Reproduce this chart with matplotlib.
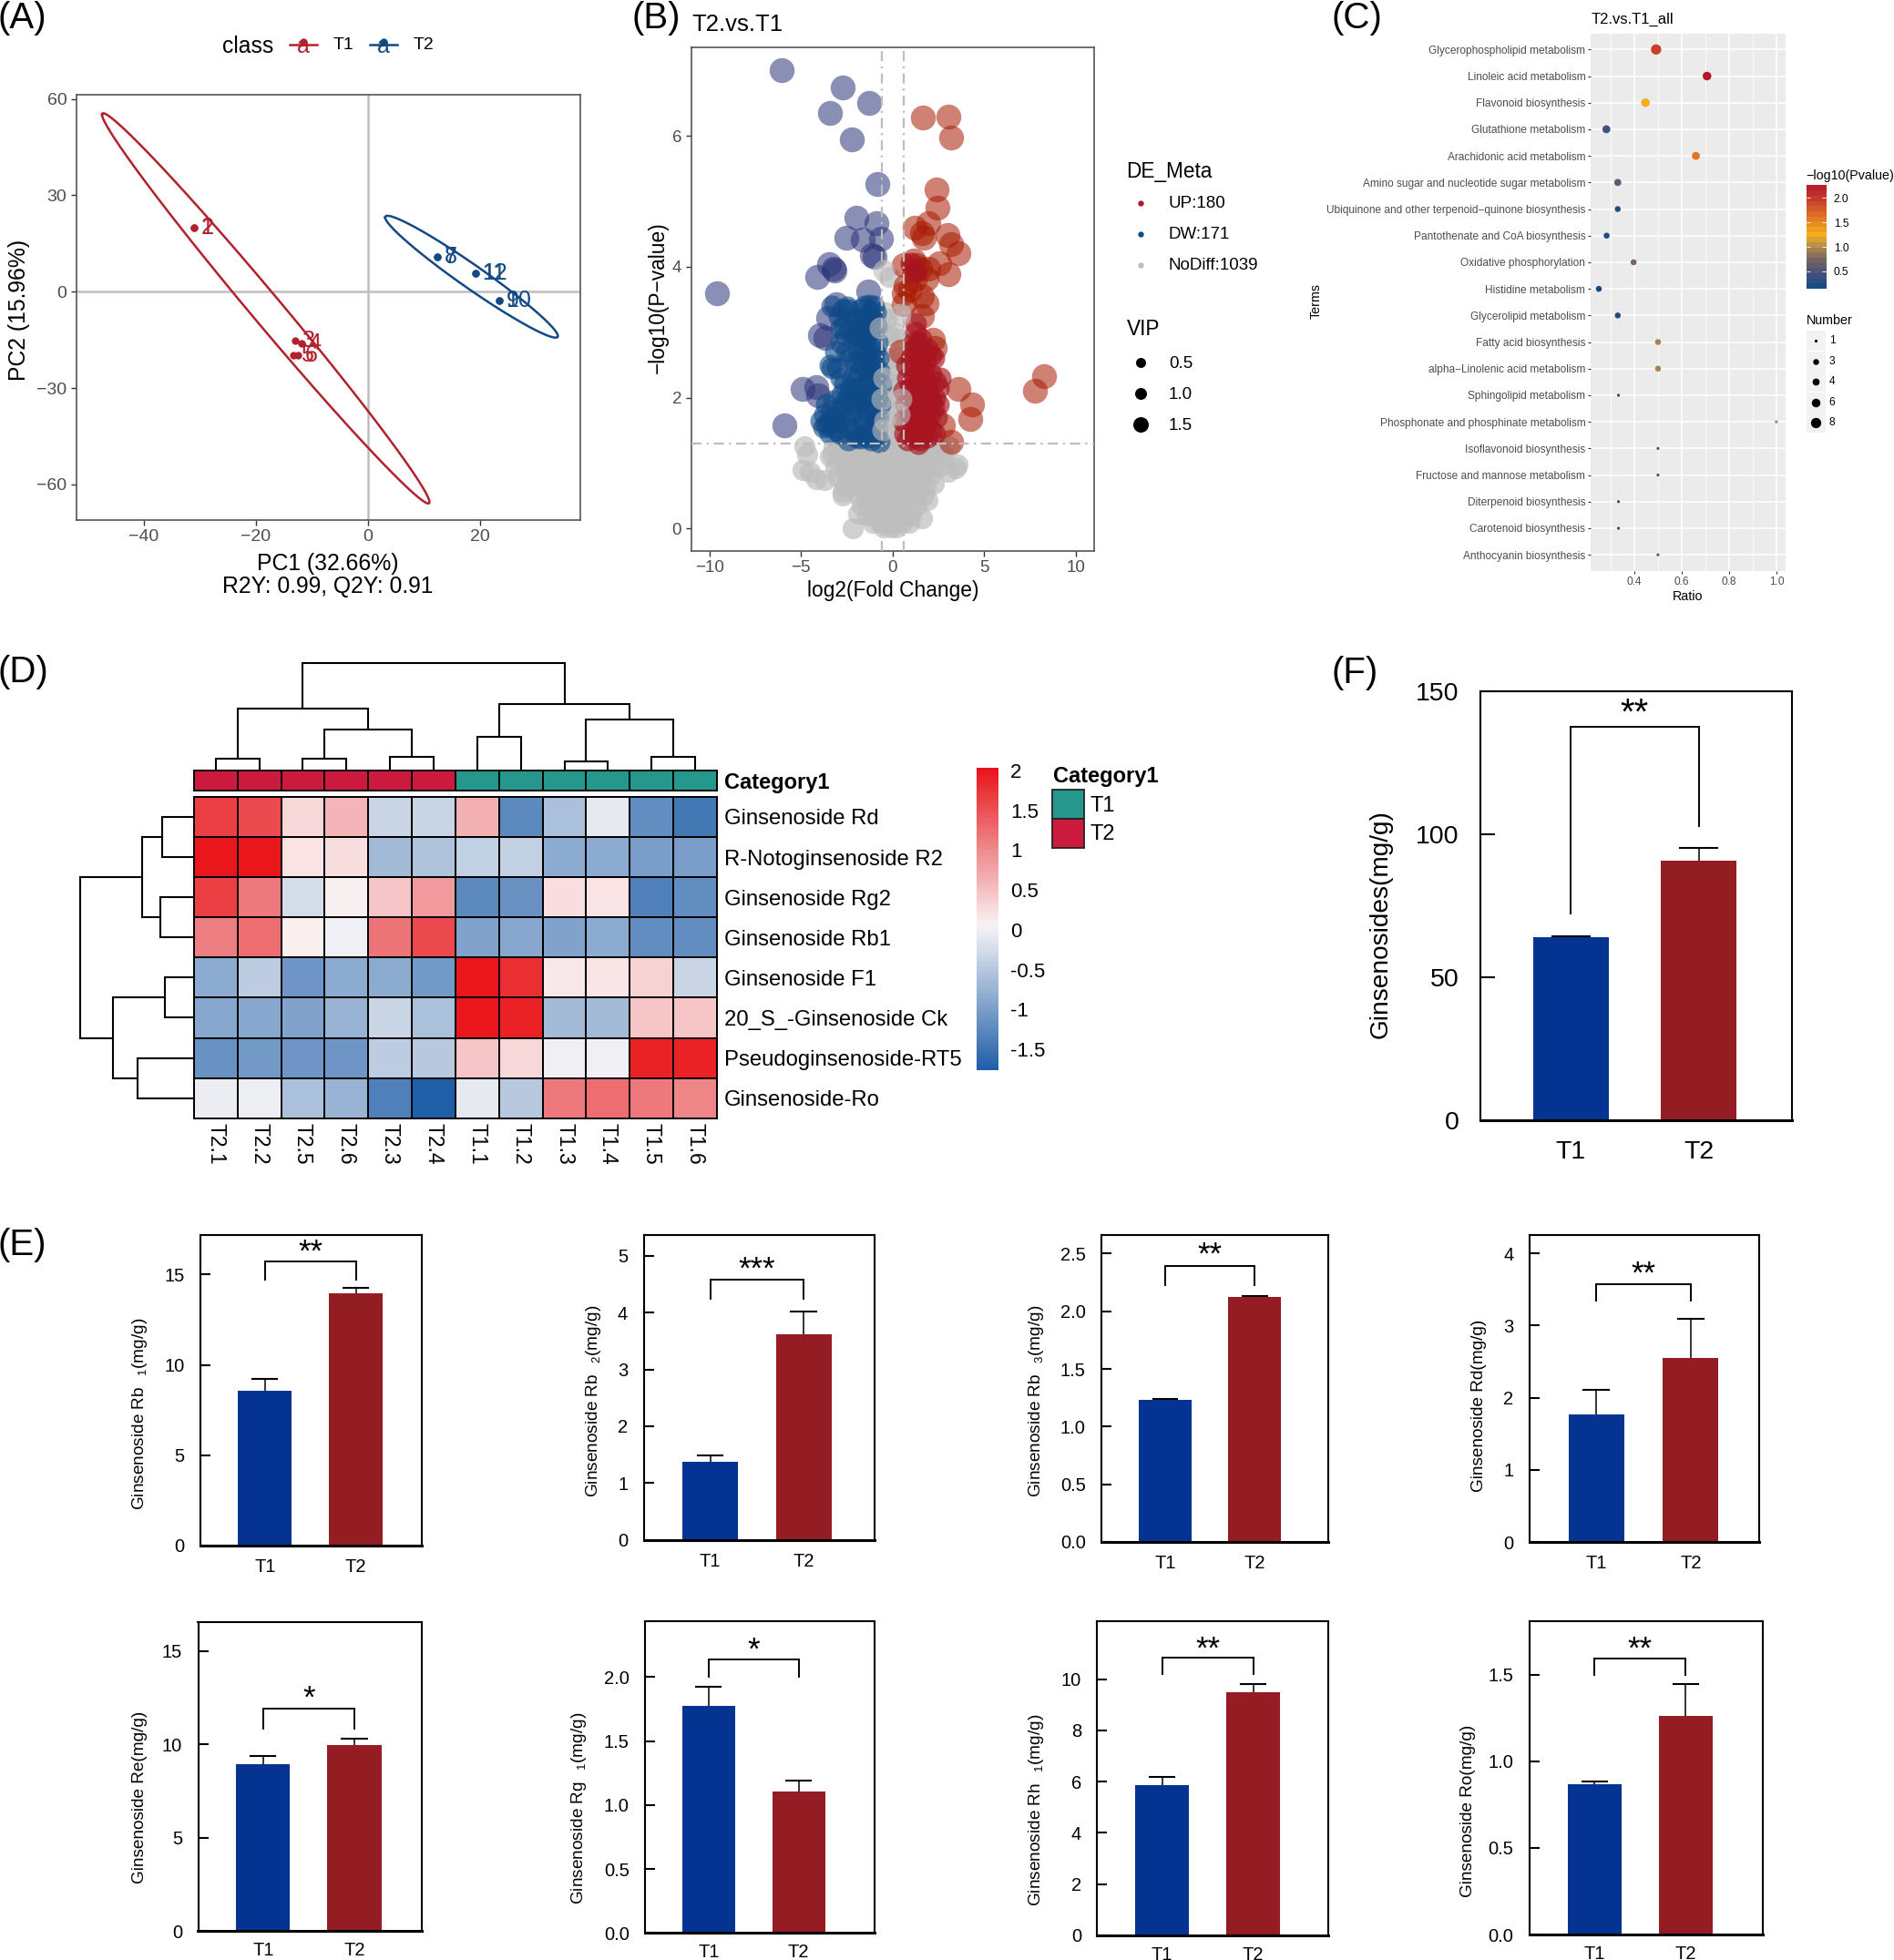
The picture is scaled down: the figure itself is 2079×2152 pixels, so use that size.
import matplotlib
matplotlib.use("Agg")
import matplotlib.pyplot as plt
import numpy as np
from matplotlib.colors import LinearSegmentedColormap, Normalize, ListedColormap

plt.rcParams['font.family'] = ['Liberation Sans', 'DejaVu Sans']
plt.rcParams['mathtext.default'] = 'regular'

W, H = 2079, 2152

# ---- panel A
t1_pc1 = [-31, -31, -12.9, -11.8, -13.2, -12.4]
t1_pc2 = [20, 20, -15.2, -16, -19.7, -19.7]
t1_ids = ['1', '2', '3', '4', '5', '6']
t2_pc1 = [12.4, 12.4, 19.2, 19.2, 23.4, 23.4]
t2_pc2 = [10.8, 10.8, 5.6, 5.6, -2.7, -2.7]
t2_ids = ['7', '8', '11', '12', '9', '10']
# centre x, centre y, axis x, axis y, vertical half width
t1_ellipse = [-18.2, -5.2, -29.2, 60.3, 7.3]
t2_ellipse = [18.5, 4.65, -15.4, 18.45, 4.4]

dw_big = [(-6.04, 7.01), (-2.71, 6.74), (-1.28, 6.5), (-3.42, 6.35), (-2.23, 5.95), (-0.82, 5.26),
          (-2.0, 4.75), (-0.89, 4.67), (-2.53, 4.45), (-1.62, 4.42), (-0.62, 4.43), (-1.12, 4.18),
          (-1.0, 4.15), (-3.46, 4.04), (-3.17, 3.95), (-3.23, 3.97), (-4.1, 3.84), (-9.6, 3.6),
          (-1.32, 3.62), (-3.07, 3.43), (-3.5, 3.22), (-3.96, 2.96), (-3.69, 2.91),
          (-4.92, 2.13), (-4.15, 2.16), (-4.08, 2.04), (-5.9, 1.58)]
dw_dense = [(-3.9, 1.65), (-3.7, 1.75), (-3.5, 1.62), (-3.3, 1.8), (-3.6, 1.9), (-3.1, 1.7), (-3.25, 1.55),
            (-3.4, 1.45), (-2.9, 1.62), (-2.7, 1.85), (-2.5, 1.55), (-2.3, 1.7), (-2.1, 1.5), (-1.95, 1.8),
            (-1.7, 1.6), (-1.5, 1.45), (-1.3, 1.75), (-1.1, 1.55), (-0.9, 1.42), (-0.75, 1.33), (-2.4, 1.35),
            (-1.8, 1.38), (-1.2, 1.35), (-2.6, 2.2), (-2.4, 2.0), (-2.2, 2.3), (-2.0, 2.1), (-1.8, 2.4),
            (-1.6, 2.0), (-1.4, 2.25), (-1.2, 2.05), (-1.0, 2.3), (-0.85, 2.0), (-2.8, 2.3), (-3.0, 2.45),
            (-3.3, 2.45), (-3.4, 2.5), (-2.1, 2.55), (-1.7, 2.6), (-1.3, 2.55), (-1.05, 2.55), (-0.8, 2.6),
            (-0.65, 2.2), (-0.7, 1.9), (-0.8, 1.7), (-3.1, 2.7), (-2.8, 2.85), (-2.5, 2.7), (-2.2, 2.9),
            (-1.9, 2.75), (-1.5, 2.9), (-1.2, 2.8), (-0.85, 2.85), (-2.6, 3.1), (-2.3, 3.05), (-2.0, 3.2),
            (-1.7, 3.1), (-1.4, 3.25), (-1.1, 3.05), (-2.9, 3.25), (-2.4, 3.35), (-1.8, 3.35), (-1.3, 3.42),
            (-1.05, 3.4), (-1.25, 3.3), (-3.3, 3.4), (-1.55, 3.4), (-2.48, 3.38), (-2.82, 3.07),
            (-2.55, 1.95), (-2.2, 1.9), (-1.9, 1.95), (-1.5, 1.85), (-1.15, 1.85), (-0.95, 1.65), (-2.0, 1.4),
            (-1.55, 1.65), (-2.6, 1.7), (-2.85, 1.45), (-3.05, 1.5), (-3.6, 1.58), (-3.75, 1.55), (-3.2, 1.95),
            (-2.3, 2.15), (-1.95, 2.3), (-1.55, 2.2), (-1.2, 2.4), (-0.95, 2.15), (-1.45, 2.45), (-1.9, 2.55),
            (-2.35, 2.6), (-1.65, 2.8), (-1.35, 2.7), (-1.0, 2.7), (-2.05, 2.95), (-1.75, 2.95), (-1.35, 3.0),
            (-0.9, 3.1), (-2.15, 3.2), (-1.55, 3.2), (-1.15, 3.2), (-0.95, 3.3), (-1.9, 3.05), (-2.55, 2.95),
            (-2.7, 3.35), (-1.4, 1.4), (-0.85, 1.55), (-0.75, 2.4), (-1.6, 1.95), (-1.85, 2.15), (-2.75, 2.05)]
up_big = [(1.66, 6.28), (3.05, 6.29), (3.21, 5.97), (2.39, 5.18), (2.44, 4.91), (1.94, 4.67), (1.2, 4.6),
          (1.62, 4.51), (1.69, 4.45), (2.98, 4.48), (3.21, 4.35), (3.58, 4.21), (2.57, 4.06), (3.03, 3.89),
          (8.29, 2.33), (7.79, 2.1), (3.6, 2.13), (4.35, 1.89), (4.26, 1.67), (3.21, 1.33), (2.76, 1.57),
          (0.6, 4.03), (1.16, 4.09), (1.32, 4.03), (1.5, 3.97), (1.95, 3.97), (1.85, 3.82), (0.7, 3.7),
          (0.6, 3.6), (1.6, 3.55), (1.85, 3.44), (0.6, 3.43), (1.6, 3.25), (0.48, 2.7), (2.2, 2.88),
          (2.3, 2.76), (0.95, 3.65), (1.2, 3.8)]
up_dense = [(0.6, 2.1), (0.7, 1.9), (0.55, 1.65), (0.65, 1.45), (0.8, 2.3), (0.75, 2.5), (1.0, 2.6), (1.2, 2.75),
            (1.4, 2.85), (1.5, 2.6), (1.7, 2.7), (1.9, 2.75), (2.1, 2.65), (2.25, 2.6), (0.95, 2.15), (1.15, 2.3),
            (1.3, 2.1), (1.5, 2.3), (1.7, 2.4), (1.9, 2.2), (2.1, 2.35), (2.35, 2.25), (2.5, 2.15), (2.6, 2.3),
            (2.3, 2.0), (2.1, 1.95), (1.85, 1.9), (1.6, 2.05), (1.35, 1.85), (1.1, 1.95), (0.9, 1.75), (1.2, 1.65),
            (1.45, 1.6), (1.65, 1.75), (1.85, 1.6), (2.05, 1.75), (2.25, 1.85), (2.4, 1.7), (2.5, 1.9), (1.0, 1.45),
            (1.25, 1.4), (1.5, 1.35), (1.7, 1.45), (1.9, 1.4), (2.1, 1.5), (2.3, 1.45), (1.4, 1.3), (0.8, 1.35),
            (1.55, 2.9), (1.25, 3.0), (1.28, 3.13), (1.16, 2.85), (1.4, 2.2), (1.6, 1.9), (1.75, 2.15), (1.45, 2.0),
            (1.3, 1.5), (1.55, 1.5), (1.75, 1.6), (1.1, 1.8), (1.4, 1.75), (1.75, 1.85), (1.95, 2.05), (1.25, 2.45),
            (1.55, 2.45), (1.8, 2.55), (1.1, 3.9), (1.3, 3.95), (1.0, 4.05)]
# grey funnel, rows of equal -log10(P)
nd_rows = [(1.25, [-3.2, -2.7, -2.3, -1.9, -1.4, -1.0, -0.6, -0.1, 0.3, 0.8, 1.2, 1.7, 2.1, 2.5]),
           (1.1, [-3.4, -2.9, -2.4, -2.0, -1.6, -1.1, -0.7, -0.3, 0.2, 0.6, 1.1, 1.5, 2.0, 2.4, 2.8]),
           (0.95, [-3.1, -2.6, -2.2, -1.8, -1.3, -0.9, -0.4, 0.0, 0.5, 0.9, 1.4, 1.8, 2.2, 2.6]),
           (0.8, [-3.0, -2.5, -2.1, -1.6, -1.2, -0.8, -0.3, 0.2, 0.7, 1.1, 1.6, 2.0]),
           (0.65, [-2.6, -2.1, -1.7, -1.3, -0.9, -0.4, 0.1, 0.5, 1.0, 1.4, 1.8]),
           (0.5, [-2.7, -1.9, -1.5, -1.0, -0.6, -0.1, 0.4, 0.8, 1.3, 1.7]),
           (0.35, [-1.7, -1.3, -0.9, -0.5, 0.0, 0.4, 0.9, 1.3]),
           (0.2, [-1.4, -1.0, -0.6, -0.2, 0.2, 0.6, 1.0]),
           (0.08, [-1.1, -0.7, -0.3, 0.1, 0.5, 0.9]),
           (0.02, [-0.5, -0.1, 0.2])]
nd_extra = [(-4.81, 1.26), (-4.65, 1.13), (-4.92, 0.89), (-4.49, 0.86), (-4.15, 0.75), (-3.74, 0.74), (-3.28, 1.13),
            (-2.71, 0.56), (-2.19, 0.01), (-1.87, 0.23), (1.62, 0.15), (1.91, 0.44), (2.23, 0.68), (3.03, 0.86),
            (3.55, 0.98), (3.44, 0.92), (2.64, 1.16), (3.1, 1.26),
            (-0.2, 3.85), (-0.4, 3.3), (-0.3, 3.2), (0.1, 3.0), (-0.2, 2.95),
            (0.3, 2.9), (0.2, 2.6), (-0.2, 2.6), (0.1, 2.45), (0.3, 2.4), (-0.3, 2.2), (0.1, 2.2), (0.3, 2.0),
            (-0.4, 1.85), (0.0, 1.9), (-0.1, 1.6), (0.35, 1.5), (0.05, 1.4), (-0.35, 1.4)]
# these few sit on top of the coloured points
nd_top = [(-0.46, 3.94), (-0.66, 3.07), (0.41, 3.28), (0.48, 1.98), (-0.6, 1.98), (-0.5, 2.3), (0.35, 1.75),
          (-0.45, 1.65), (-0.55, 1.5)]

# ---- panel C
terms = ['Glycerophospholipid metabolism', 'Linoleic acid metabolism', 'Flavonoid biosynthesis',
         'Glutathione metabolism', 'Arachidonic acid metabolism', 'Amino sugar and nucleotide sugar metabolism',
         'Ubiquinone and other terpenoid\u2212quinone biosynthesis', 'Pantothenate and CoA biosynthesis',
         'Oxidative phosphorylation', 'Histidine metabolism', 'Glycerolipid metabolism', 'Fatty acid biosynthesis',
         'alpha\u2212Linolenic acid metabolism', 'Sphingolipid metabolism', 'Phosphonate and phosphinate metabolism',
         'Isoflavonoid biosynthesis', 'Fructose and mannose metabolism', 'Diterpenoid biosynthesis',
         'Carotenoid biosynthesis', 'Anthocyanin biosynthesis']
ratio = [0.492, 0.707, 0.447, 0.282, 0.66, 0.33, 0.33, 0.283, 0.397, 0.25, 0.33, 0.5, 0.5, 0.333, 1.0, 0.5, 0.5,
         0.333, 0.333, 0.5]
pval = [1.95, 2.25, 1.25, 0.4, 1.6, 0.6, 0.25, 0.2, 0.75, 0.15, 0.25, 0.95, 0.95, 0.3, 0.95, 0.45, 0.45, 0.3, 0.3, 0.55]
number = [8, 6, 6, 5, 5, 4, 3, 3, 3, 3, 3, 3, 3, 1, 1, 1, 1, 1, 1, 1]
number_diam = {1: 3.2, 3: 6.5, 4: 7.8, 5: 8.7, 6: 9.5, 8: 11.3}

# ---- panel D
col_names = ['T2.1', 'T2.2', 'T2.5', 'T2.6', 'T2.3', 'T2.4', 'T1.1', 'T1.2', 'T1.3', 'T1.4', 'T1.5', 'T1.6']
col_group = [1, 1, 1, 1, 1, 1, 0, 0, 0, 0, 0, 0]
row_names = ['Ginsenoside Rd', 'R-Notoginsenoside R2', 'Ginsenoside Rg2', 'Ginsenoside Rb1', 'Ginsenoside F1',
             '20_S_-Ginsenoside Ck', 'Pseudoginsenoside-RT5', 'Ginsenoside-Ro']
heat = [[1.65, 1.55, 0.3, 0.6, -0.35, -0.35, 0.65, -1.25, -0.6, -0.1, -1.2, -1.45],
        [2.0, 2.0, 0.2, 0.25, -0.65, -0.55, -0.4, -0.4, -0.85, -0.85, -1.0, -1.0],
        [1.65, 1.15, -0.25, 0.08, 0.45, 0.85, -1.25, -1.15, 0.25, 0.2, -1.35, -1.2],
        [1.1, 1.25, 0.1, 0.0, 1.2, 1.55, -0.95, -0.9, -0.95, -0.85, -1.2, -1.2],
        [-0.85, -0.45, -1.1, -0.85, -0.85, -1.05, 2.0, 1.8, 0.15, 0.18, 0.35, -0.35],
        [-0.9, -0.9, -0.95, -0.75, -0.35, -0.6, 2.0, 1.9, -0.65, -0.65, 0.45, 0.45],
        [-1.15, -1.05, -1.1, -1.1, -0.45, -0.5, 0.45, 0.3, 0.0, 0.0, 1.9, 1.9],
        [-0.05, -0.03, -0.6, -0.75, -1.35, -1.75, -0.1, -0.5, 1.15, 1.25, 1.15, 1.05]]
# merges: left node, right node, height
col_merges = [(0, 1, 30), (2, 3, 30), (4, 5, 37), (13, 14, 114), (12, 15, 175), (6, 7, 92), (8, 9, 24), (10, 11, 35),
              (18, 19, 142), (17, 20, 187), (16, 21, 305)]
row_merges = [(0, 1, 69), (2, 3, 72), (8, 9, 111), (4, 5, 62), (6, 7, 122), (11, 12, 175), (10, 13, 245)]

# ---- panels E and F
e_labels = ['Ginsenoside Rb$\\ \\ _{1}$(mg/g)', 'Ginsenoside Rb$\\ \\ _{2}$(mg/g)', 'Ginsenoside Rb$\\ \\ _{3}$(mg/g)',
            'Ginsenoside Rd(mg/g)', 'Ginsenoside Re(mg/g)', 'Ginsenoside Rg$\\ \\ _{1}$(mg/g)',
            'Ginsenoside Rh$\\ \\ _{1}$(mg/g)', 'Ginsenoside Ro(mg/g)']
e_t1 = [8.57, 1.38, 1.232, 1.769, 8.91, 1.777, 5.86, 0.866]
e_t2 = [13.98, 3.61, 2.124, 2.555, 9.97, 1.109, 9.49, 1.26]
e_t1_cap = [9.22, 1.48, 1.242, 2.11, 9.35, 1.924, 6.19, 0.885]
e_t2_cap = [14.25, 4.02, 2.134, 3.09, 10.3, 1.188, 9.81, 1.447]
e_br_top = [15.72, 4.58, 2.39, 3.57, 11.9, 2.142, 10.84, 1.595]
e_br_foot = [14.7, 4.24, 2.226, 3.34, 10.82, 2.0, 10.19, 1.498]
e_star_y = [16.56, 4.86, 2.537, 3.79, 12.77, 2.254, 11.41, 1.68]
e_stars = ['**', '***', '**', '**', '*', '*', '**', '**']
e_ymax = [17.2, 5.37, 2.663, 4.256, 16.54, 2.44, 12.28, 1.81]
e_ticks = [[0, 5, 10, 15], [0, 1, 2, 3, 4, 5], [0, 0.5, 1, 1.5, 2, 2.5], [0, 1, 2, 3, 4], [0, 5, 10, 15],
           [0, 0.5, 1, 1.5, 2], [0, 2, 4, 6, 8, 10], [0, 0.5, 1, 1.5]]
e_ticklabels = [['0', '5', '10', '15'], ['0', '1', '2', '3', '4', '5'], ['0.0', '0.5', '1.0', '1.5', '2.0', '2.5'],
                ['0', '1', '2', '3', '4'], ['0', '5', '10', '15'], ['0.0', '0.5', '1.0', '1.5', '2.0'],
                ['0', '2', '4', '6', '8', '10'], ['0.0', '0.5', '1.0', '1.5']]
# left, top, right, bottom in pixels, then xlim
e_boxes = [(220, 1355.7, 463, 1697), (706.6, 1355.7, 959.8, 1690.7), (1209, 1355.7, 1457.5, 1693),
           (1678.8, 1355.7, 1930.7, 1693.3), (217.5, 1781, 463, 2120), (708, 1779.7, 960, 2122.3),
           (1204.3, 1779.7, 1458, 2124.7), (1678.8, 1779.7, 1934.6, 2124)]
e_xlim = [(-0.709, 1.725), (-0.711, 1.755), (-0.716, 1.818), (-0.712, 1.724), (-0.713, 1.739), (-0.706, 1.842),
          (-0.712, 1.825), (-0.712, 1.844)]
e_label_pos = [(153, 1552), (651, 1538), (1137, 1538), (1624, 1543), (154, 1973), (636, 1985), (1137, 1987), (1611, 1988)]

f_vals = [64, 90.7]
f_caps = [64.3, 95.2]
groups = ['T1', 'T2']

BLUE = '#053391'
RED = '#941C23'
RED_A = '#B2222E'
BLUE_A = '#134A85'


def ax_px(l, t, r, b, **kw):
    return fig.add_axes([l / W, 1 - b / H, (r - l) / W, (b - t) / H], **kw)


def dendro(ax, merges, n, vertical=True):
    pos = {i: (i + 0.5, 0) for i in range(n)}
    for k, (a, b, h) in enumerate(merges):
        xa, ha = pos[a]
        xb, hb = pos[b]
        xs = [xa, xa, xb, xb]
        ys = [ha, h, h, hb]
        if vertical:
            ax.plot(xs, ys, color='black', lw=1.5, clip_on=False, solid_joinstyle='miter')
        else:
            ax.plot(ys, xs, color='black', lw=1.5, clip_on=False, solid_joinstyle='miter')
        pos[n + k] = ((xa + xb) / 2, h)


def bar_panel(box, xlim, ymax, vals, caps, ticks, ticklabels, br_top, br_foot, star_y, stars,
              fs, tick_len, ypad, xpad, cap_w, star_fs):
    ax = ax_px(*box)
    x = [0, 1]
    ax.bar(x, vals, width=0.59, color=[BLUE, RED], zorder=2)
    for xi, v, c in zip(x, vals, caps):
        ax.plot([xi, xi], [v, c], color='black', lw=1.1, zorder=1)
        ax.plot([xi - cap_w, xi + cap_w], [c, c], color='black', lw=1.5, zorder=1)
    ax.plot([0, 0, 1, 1], [br_foot[0], br_top, br_top, br_foot[1]], color='black', lw=1.4,
            solid_joinstyle='miter')
    ax.annotate(stars, (0.5, star_y), xytext=(0, -0.46 * star_fs), textcoords='offset points',
                ha='center', va='baseline', fontsize=star_fs)
    ax.set_xlim(*xlim)
    ax.set_ylim(0, ymax)
    ax.set_xticks(x, groups)
    ax.set_yticks(ticks, ticklabels)
    ax.tick_params(axis='x', length=0, pad=xpad, labelsize=fs)
    ax.tick_params(axis='y', direction='in', length=tick_len, width=1.5, pad=ypad, labelsize=fs)
    for s in ax.spines.values():
        s.set_linewidth(1.5)
    ax.spines['bottom'].set_linewidth(2.2)
    return ax


fig = plt.figure(figsize=(W / 100, H / 100), dpi=100)
ov = fig.add_axes([0, 0, 1, 1], zorder=10)
ov.set_xlim(0, W)
ov.set_ylim(H, 0)
ov.axis('off')

# panel letters
for letter, px, py in [('(A)', -3, 31), ('(B)', 694, 31), ('(C)', 1461, 31), ('(D)', -2, 749), ('(E)', -2, 1378),
                       ('(F)', 1461, 750)]:
    ov.text(px, py, letter, fontsize=29, ha='left', va='baseline')

# ---- A
ax = ax_px(83.7, 104, 637, 571)
ax.axhline(0, color='#bebebe', lw=1.8, zorder=1)
ax.axvline(0, color='#bebebe', lw=1.8, zorder=1)
t = np.linspace(0, 2 * np.pi, 300)
for el, c in [(t1_ellipse, RED_A), (t2_ellipse, BLUE_A)]:
    ax.plot(el[0] + el[2] * np.cos(t), el[1] + el[3] * np.cos(t) + el[4] * np.sin(t), color=c, lw=1.8, zorder=2)
for xs, ys, ids, c in [(t1_pc1, t1_pc2, t1_ids, RED_A), (t2_pc1, t2_pc2, t2_ids, BLUE_A)]:
    ax.scatter(xs, ys, s=36, color=c, zorder=3, linewidths=0)
    for xi, yi, lab in zip(xs, ys, ids):
        ax.annotate(lab, (xi, yi), xytext=(5.5, 0), textcoords='offset points', color=c, fontsize=18,
                    va='center', ha='left')
ax.set_xlim(-52, 37.9)
ax.set_ylim(-71.1, 61.3)
ax.set_xticks([-40, -20, 0, 20])
ax.set_yticks([-60, -30, 0, 30, 60])
ax.tick_params(labelsize=14, labelcolor='#4d4d4d', color='#333333', length=4, width=1)
for s in ax.spines.values():
    s.set_color('#555555')
    s.set_linewidth(1.2)
ov.text(360, 619, 'PC1 (32.66%)', fontsize=17.8, ha='center', va='center')
ov.text(360, 644, 'R2Y: 0.99, Q2Y: 0.91', fontsize=17.8, ha='center', va='center')
ov.text(21, 340, 'PC2 (15.96%)', fontsize=17.8, rotation=90, ha='center', va='center')
ov.text(243.7, 51, 'class', fontsize=17.8, va='center')
for x0, c, lab in [(333, RED_A, 'T1'), (421, BLUE_A, 'T2')]:
    ov.plot([x0 - 15, x0 + 15], [49, 49], color=c, lw=1.8)
    ov.scatter([x0], [46], s=36, color=c, linewidths=0)
    ov.text(x0, 51, 'a', color=c, fontsize=18, ha='center', va='center')
    ov.text(x0 + 32.6, 50, lab, fontsize=14, va='center')

# ---- B
ax = ax_px(758.5, 51.6, 1201, 604.5)
dw_b = np.array(dw_big)
dw_d = np.array(dw_dense)
up_b = np.array(up_big)
up_d = np.array(up_dense)
nd = np.array([(xi, yy) for yy, xs in nd_rows for xi in xs] + nd_extra)
nd_t = np.array(nd_top)
ax.scatter(nd[:, 0], nd[:, 1], s=280, color='#BEBEBE', alpha=0.7, linewidths=0, zorder=1)
ax.scatter(dw_b[:, 0], dw_b[:, 1], s=390, color='#2A3378', alpha=0.55, linewidths=0, zorder=2)
ax.scatter(dw_d[:, 0], dw_d[:, 1], s=300, color='#0F4A88', alpha=0.6, linewidths=0, zorder=2)
ax.scatter(up_b[:, 0], up_b[:, 1], s=390, color='#A81A00', alpha=0.55, linewidths=0, zorder=2)
ax.scatter(up_d[:, 0], up_d[:, 1], s=300, color='#A8141F', alpha=0.65, linewidths=0, zorder=2)
ax.scatter(nd_t[:, 0], nd_t[:, 1], s=300, color='#BEBEBE', alpha=0.6, linewidths=0, zorder=3)
for v in (-0.585, 0.585):
    ax.axvline(v, color='#bdbdbd', lw=1.6, ls=(0, (5, 2.5, 1, 2.5)), zorder=4)
ax.axhline(1.3, color='#bdbdbd', lw=1.6, ls=(0, (5, 2.5, 1, 2.5)), zorder=4)
ax.set_xlim(-11, 11)
ax.set_ylim(-0.338, 7.36)
ax.set_xticks([-10, -5, 0, 5, 10])
ax.set_yticks([0, 2, 4, 6])
ax.tick_params(labelsize=13.5, labelcolor='#4d4d4d', color='#333333', length=4, width=1)
for s in ax.spines.values():
    s.set_color('#555555')
    s.set_linewidth(1.2)
ov.text(759, 27, 'T2.vs.T1', fontsize=18.5, va='center')
ov.text(980, 648, 'log2(Fold Change)', fontsize=16.4, ha='center', va='center')
ov.text(722, 327, '\u2212log10(P\u2212value)', fontsize=16.4, rotation=90, ha='center', va='center')
ov.text(1236.5, 188, 'DE_Meta', fontsize=16.3, va='center')
ov.text(1236.5, 361, 'VIP', fontsize=16.3, va='center')
for py, c, lab in [(223, '#B2182B', 'UP:180'), (257, '#134A85', 'DW:171'), (290.5, '#BEBEBE', 'NoDiff:1039')]:
    ov.scatter([1252], [py], s=21, color=c, linewidths=0)
    ov.text(1283, py + 1, lab, fontsize=13.5, va='center')
for py, d, lab in [(398, 11, '0.5'), (432, 13, '1.0'), (466, 17, '1.5')]:
    ov.scatter([1252], [py], s=(d / 1.389) ** 2, color='black', linewidths=0)
    ov.text(1283, py + 1, lab, fontsize=13.5, va='center')

# ---- C
stops = [0.145, 0.5, 0.75, 1.0, 1.25, 1.6, 2.0, 2.26]
stop_cols = ['#134A85', '#4F5478', '#7A6460', '#B08A50', '#F5B01C', '#E07625', '#C53A2C', '#B2182B']
c_norm = Normalize(0.145, 2.26)
c_cmap = LinearSegmentedColormap.from_list('c', [(c_norm(v), c) for v, c in zip(stops, stop_cols)])
ax = ax_px(1746.4, 36.8, 1959.5, 626.7, facecolor='#EBEBEB')
yy = np.arange(len(terms))
ax.set_axisbelow(True)
ax.grid(True, which='major', color='white', lw=1.1)
ax.set_xticks([0.3, 0.5, 0.7, 0.9], minor=True)
ax.grid(True, which='minor', axis='x', color='white', lw=0.6)
ax.scatter(ratio, yy, s=[(number_diam[n] / 1.389) ** 2 for n in number], c=pval, cmap=c_cmap, norm=c_norm,
           linewidths=0, zorder=3)
ax.set_xlim(0.217, 1.037)
ax.set_ylim(19.6, -0.6)
ax.set_xticks([0.4, 0.6, 0.8, 1.0], ['0.4', '0.6', '0.8', '1.0'])
ax.set_yticks(yy, terms)
ax.tick_params(axis='both', which='major', labelsize=8.6, labelcolor='#4d4d4d', color='#333333', length=2.4, width=0.8, pad=2)
ax.tick_params(axis='x', which='minor', length=0)
for s in ax.spines.values():
    s.set_visible(False)
ov.text(1746.5, 21, 'T2.vs.T1_all', fontsize=12, va='center')
ov.text(1853, 655, 'Ratio', fontsize=10.3, ha='center', va='center')
ov.text(1445, 331, 'Terms', fontsize=10.3, rotation=90, ha='center', va='center')
ov.text(1982.5, 193, '\u2212log10(Pvalue)', fontsize=10.3, va='center')
cb = ax_px(1982.5, 203.5, 2004.6, 317)
edges = np.linspace(0.145, 2.26, 21)
cb.pcolormesh([0, 1], edges, ((edges[:-1] + edges[1:]) / 2)[:, None], cmap=c_cmap, norm=c_norm)
cb.hlines([0.5, 1.0, 1.5, 2.0], 0, 0.2, color='white', lw=0.6)
cb.hlines([0.5, 1.0, 1.5, 2.0], 0.8, 1, color='white', lw=0.6)
cb.set_xticks([])
cb.yaxis.tick_right()
cb.set_yticks([0.5, 1.0, 1.5, 2.0], ['0.5', '1.0', '1.5', '2.0'])
cb.tick_params(axis='y', length=0, labelsize=8.6, pad=6)
for s in cb.spines.values():
    s.set_visible(False)
ov.text(1982.5, 352.5, 'Number', fontsize=10.3, va='center')
for py, n in zip([374, 397, 419, 442, 464], [1, 3, 4, 6, 8]):
    ov.add_patch(plt.Rectangle((1982.5, py - 11), 21.5, 22, color='#F2F2F2', lw=0))
    ov.scatter([1993], [py], s=(number_diam[n] / 1.389) ** 2, color='black', linewidths=0)
    ov.text(2007.6, py, str(n), fontsize=8.6, va='center')

# ---- D
d_norm = Normalize(-1.76, 2.03)
d_stops = [(-1.76, '#1F5FA8'), (-0.5, '#B7C8DF'), (0, '#F1F1F4'), (0.1, '#FAEFEF'), (0.5, '#F5C0C3'),
           (1.0, '#EE8B8D'), (2.03, '#E91419')]
d_cmap = LinearSegmentedColormap.from_list('d', [(d_norm(v), c) for v, c in d_stops])
ax = ax_px(212.8, 874.9, 787, 1227.7)
ax.pcolormesh(np.array(heat), cmap=d_cmap, norm=d_norm, edgecolors='black', linewidth=1.3)
ax.set_ylim(8, 0)
ax.set_xticks(np.arange(12) + 0.5, col_names, rotation=-90)
ax.yaxis.tick_right()
ax.set_yticks(np.arange(8) + 0.5, row_names)
ax.tick_params(axis='y', length=0, labelsize=17.2, pad=5.5)
ax.tick_params(axis='x', length=0, labelsize=16.5, pad=4)
for s in ax.spines.values():
    s.set_linewidth(1.4)

ann = ax_px(212.8, 845.8, 787, 867.6)
ann.pcolormesh(np.array([col_group]), cmap=ListedColormap(['#26978C', '#CB1A3D']), edgecolors='black', linewidth=1.3)
ann.set_xticks([])
ann.yaxis.tick_right()
ann.set_yticks([0.5], ['Category1'], fontweight='bold')
ann.tick_params(axis='y', length=0, labelsize=17, pad=5.5)
for s in ann.spines.values():
    s.set_linewidth(1.4)

dc = ax_px(212.8, 728, 787, 844.7)
dendro(dc, col_merges, 12)
dc.set_xlim(0, 12)
dc.set_ylim(0, 305)
dc.axis('off')
dr = ax_px(87.8, 874.9, 212.8, 1227.7)
dendro(dr, row_merges, 8, vertical=False)
dr.set_xlim(245, 0)
dr.set_ylim(8, 0)
dr.axis('off')

cb = ax_px(1072, 843.3, 1096.4, 1174.7)
vals = np.linspace(-1.76, 2.03, 200)
cb.pcolormesh([0, 1], vals, ((vals[:-1] + vals[1:]) / 2)[:, None], cmap=d_cmap, norm=d_norm)
cb.set_xticks([])
cb.yaxis.tick_right()
cb.set_yticks([-1.5, -1, -0.5, 0, 0.5, 1, 1.5, 2], ['-1.5', '-1', '-0.5', '0', '0.5', '1', '1.5', '2'])
cb.tick_params(axis='y', length=0, labelsize=16, pad=9)
for s in cb.spines.values():
    s.set_visible(False)

ov.text(1155.7, 853, 'Category1', fontsize=17, fontweight='bold', va='center')
for py0, py1, c, lab in [(867.3, 899, '#26978C', 'T1'), (899, 930.7, '#CB1A3D', 'T2')]:
    ov.add_patch(plt.Rectangle((1155.4, py0), 34.2, py1 - py0, facecolor=c, edgecolor='#222222', lw=1.3))
    ov.text(1196.8, (py0 + py1) / 2 + 1.5, lab, fontsize=17, va='center')

# ---- E
for i in range(8):
    bar_panel(e_boxes[i], e_xlim[i], e_ymax[i], [e_t1[i], e_t2[i]], [e_t1_cap[i], e_t2_cap[i]], e_ticks[i],
              e_ticklabels[i], e_br_top[i], (e_br_foot[i], e_br_foot[i]), e_star_y[i], e_stars[i],
              14.5, 8, 12.5, 10 if i < 4 else 8.5, 0.135, 25)
    ov.text(e_label_pos[i][0], e_label_pos[i][1], e_labels[i], fontsize=13.7, rotation=90, ha='center', va='center')

# ---- F
bar_panel((1625.4, 759.3, 1966.5, 1229.7), (-0.706, 1.727), 150, f_vals, f_caps, [0, 50, 100, 150],
          ['0', '50', '100', '150'], 137.6, (72.2, 103), 144.5, '**', 20.5, 11.7, 17, 16, 0.145, 29)
ov.text(1516, 1015, 'Ginsenosides(mg/g)', fontsize=20.2, rotation=90, ha='center', va='center')

fig.savefig('out.png', dpi=100)
